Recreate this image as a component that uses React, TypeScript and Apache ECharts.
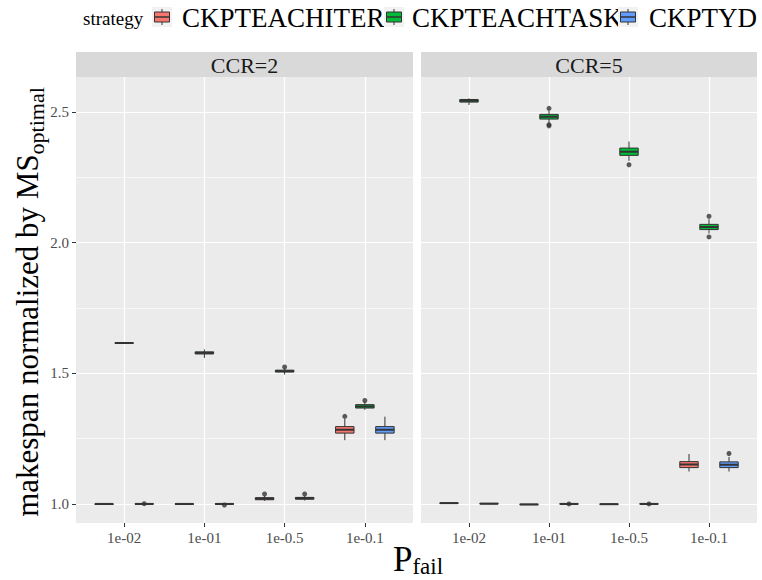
import React, { useEffect, useRef } from "react";
import * as echarts from "echarts";

// ---------- data ----------
const categories = ["1e-02", "1e-01", "1e-0.5", "1e-0.1"];
const strategies = ["CKPTEACHITER", "CKPTEACHTASK", "CKPTYD"];
const strategyColors = ["#F8766D", "#00BA38", "#619CFF"];
const panels = ["CCR=2", "CCR=5"];
const yTicks = [1.0, 1.5, 2.0, 2.5];
const yMinorTicks = [1.25, 1.75, 2.25];

// [min, q1, median, q3, max] per category
const ccr2Iter = [
  [0.999, 1.0, 1.0, 1.0, 1.001],
  [0.999, 0.9995, 1.0, 1.0005, 1.001],
  [1.012, 1.016, 1.02, 1.024, 1.03],
  [1.244, 1.271, 1.284, 1.296, 1.325],
];
const ccr2Task = [
  [1.614, 1.615, 1.616, 1.617, 1.618],
  [1.559, 1.574, 1.578, 1.582, 1.591],
  [1.495, 1.505, 1.508, 1.512, 1.518],
  [1.36, 1.367, 1.373, 1.38, 1.39],
];
const ccr2Yd = [
  [0.999, 1.0, 1.0, 1.001, 1.002],
  [0.998, 0.999, 1.0, 1.001, 1.002],
  [1.013, 1.018, 1.022, 1.025, 1.03],
  [1.244, 1.271, 1.284, 1.296, 1.334],
];
const ccr5Iter = [
  [1.001, 1.002, 1.003, 1.004, 1.005],
  [0.997, 0.998, 0.998, 0.999, 1.0],
  [0.998, 0.999, 0.999, 1.0, 1.001],
  [1.124, 1.139, 1.151, 1.162, 1.191],
];
const ccr5Task = [
  [2.527, 2.538, 2.543, 2.548, 2.552],
  [2.46, 2.473, 2.482, 2.491, 2.505],
  [2.313, 2.334, 2.348, 2.362, 2.387],
  [2.035, 2.05, 2.06, 2.07, 2.09],
];
const ccr5Yd = [
  [0.999, 1.0, 1.001, 1.002, 1.003],
  [0.997, 0.999, 1.0, 1.001, 1.002],
  [0.997, 0.999, 1.0, 1.001, 1.002],
  [1.124, 1.139, 1.15, 1.161, 1.18],
];
// outliers: [categoryIndex, strategyIndex, value]
const ccr2Outliers = [
  [0, 2, 1.001],
  [1, 2, 0.996],
  [2, 0, 1.038],
  [2, 1, 1.524],
  [2, 2, 1.038],
  [3, 0, 1.335],
  [3, 1, 1.396],
];
const ccr5Outliers = [
  [1, 1, 2.514],
  [1, 1, 2.447],
  [1, 1, 2.452],
  [1, 2, 1.0],
  [2, 1, 2.298],
  [2, 2, 1.0],
  [3, 1, 2.101],
  [3, 1, 2.022],
  [3, 2, 1.193],
];

const panelBoxes = [
  [ccr2Iter, ccr2Task, ccr2Yd],
  [ccr5Iter, ccr5Task, ccr5Yd],
];
const panelOutliers = [ccr2Outliers, ccr5Outliers];

// ---------- layout ----------
const FONT = "Liberation Serif";
const DODGE = 0.25;
const BOX_W = 0.23;
const gridsPos = [
  { left: 76, width: 337 },
  { left: 421, width: 336 },
];
const GRID_TOP = 77;
const GRID_BOTTOM_Y = 523;
const Y_MIN = 0.927;
const Y_MAX = 2.634;

function xPos(cat: number, s: number) {
  return cat + 1 + (s - 1) * DODGE;
}

function richText(x: number, y: number, text: string, size: number, color: string, align: string) {
  return {
    type: "text",
    x,
    y,
    style: {
      text: "{t|" + text + "}",
      align,
      verticalAlign: "middle",
      rich: {
        t: { fontFamily: FONT, fontSize: size, lineHeight: size, fill: color },
      },
    },
  };
}

export default function App() {
  const ref = useRef<HTMLDivElement>(null);
  useEffect(() => {
    if (!ref.current) return;
    const chart = echarts.init(ref.current, undefined, { renderer: "svg" });

    const grid = gridsPos.map((g) => ({
      left: g.left,
      width: g.width,
      top: GRID_TOP,
      height: GRID_BOTTOM_Y - GRID_TOP,
      show: true,
      backgroundColor: "#EBEBEB",
      borderWidth: 0,
      containLabel: false,
    }));

    const xAxis = panels.map((_, i) => ({
      type: "value",
      gridIndex: i,
      min: 0.4,
      max: 4.6,
      axisLine: { show: false },
      splitLine: { show: false },
      axisTick: {
        show: true,
        length: 4,
        customValues: [1, 2, 3, 4],
        lineStyle: { color: "#333333", width: 1 },
      },
      axisLabel: {
        show: true,
        customValues: [1, 2, 3, 4],
        formatter: (v: number) => categories[Math.round(v) - 1] ?? "",
        color: "#4D4D4D",
        fontFamily: FONT,
        fontSize: 15,
        margin: 7,
      },
    }));

    const yAxis = panels.map((_, i) => ({
      type: "value",
      gridIndex: i,
      min: Y_MIN,
      max: Y_MAX,
      axisLine: { show: false },
      splitLine: { show: false },
      axisTick: {
        show: i === 0,
        length: 4,
        customValues: yTicks,
        lineStyle: { color: "#333333", width: 1 },
      },
      axisLabel: {
        show: i === 0,
        customValues: yTicks,
        formatter: (v: number) => v.toFixed(1),
        color: "#4D4D4D",
        fontFamily: FONT,
        fontSize: 15,
        margin: 7,
      },
    }));

    const gridLines = [
      ...yTicks.map((v) => ({ yAxis: v, lineStyle: { width: 1.2 } })),
      ...yMinorTicks.map((v) => ({ yAxis: v, lineStyle: { width: 0.6 } })),
      ...categories.map((_, c) => ({ xAxis: c + 1, lineStyle: { width: 1.2 } })),
    ];

    const series: any[] = [];
    panels.forEach((_, p) => {
      const data: any[] = [];
      panelBoxes[p].forEach((arr, s) => {
        arr.forEach((b, c) => {
          data.push([xPos(c, s), b[0], b[1], b[2], b[3], b[4], s]);
        });
      });
      series.push({
        type: "custom",
        xAxisIndex: p,
        yAxisIndex: p,
        z: 3,
        data,
        renderItem: (params: any, api: any) => {
          const x = api.value(0);
          const s = api.value(6);
          const pMin = api.coord([x, api.value(1)]);
          const pQ1 = api.coord([x, api.value(2)]);
          const pMed = api.coord([x, api.value(3)]);
          const pQ3 = api.coord([x, api.value(4)]);
          const pMax = api.coord([x, api.value(5)]);
          const w = api.size([BOX_W, 0])[0];
          const stroke = "#333333";
          return {
            type: "group",
            children: [
              {
                type: "line",
                shape: { x1: pMax[0], y1: pMax[1], x2: pQ3[0], y2: pQ3[1] },
                style: { stroke, lineWidth: 1 },
              },
              {
                type: "line",
                shape: { x1: pQ1[0], y1: pQ1[1], x2: pMin[0], y2: pMin[1] },
                style: { stroke, lineWidth: 1 },
              },
              {
                type: "rect",
                shape: {
                  x: pQ3[0] - w / 2,
                  y: pQ3[1],
                  width: w,
                  height: Math.max(pQ1[1] - pQ3[1], 0.5),
                },
                style: { fill: strategyColors[s], stroke, lineWidth: 1 },
              },
              {
                type: "line",
                shape: {
                  x1: pMed[0] - w / 2,
                  y1: pMed[1],
                  x2: pMed[0] + w / 2,
                  y2: pMed[1],
                },
                style: { stroke, lineWidth: 2 },
              },
            ],
          };
        },
        markLine: {
          silent: true,
          z: 1,
          symbol: ["none", "none"],
          label: { show: false },
          lineStyle: { color: "#FFFFFF", type: "solid" },
          emphasis: { disabled: true },
          data: gridLines,
        },
      });
      series.push({
        type: "scatter",
        xAxisIndex: p,
        yAxisIndex: p,
        z: 4,
        symbol: "circle",
        symbolSize: 5,
        itemStyle: { color: "#333333" },
        data: panelOutliers[p].map((o) => [xPos(o[0], o[1]), o[2]]),
      });
    });

    // strips
    const graphics: any[] = [];
    panels.forEach((name, i) => {
      const g = gridsPos[i];
      graphics.push({
        type: "rect",
        shape: { x: g.left, y: 52, width: g.width, height: GRID_TOP - 52 },
        style: { fill: "#D9D9D9" },
        z: 0,
      });
      graphics.push(richText(g.left + g.width / 2, 65, name, 22, "#1A1A1A", "center"));
    });

    // legend
    graphics.push(richText(83, 18, "strategy", 19, "#000000", "left"));
    const keyX = [152, 384, 618];
    const textX = [182, 412, 649];
    strategies.forEach((name, s) => {
      const kx = keyX[s];
      const ky = 7;
      const k = 20;
      graphics.push({
        type: "group",
        children: [
          { type: "rect", shape: { x: kx, y: ky, width: k, height: k }, style: { fill: "#F2F2F2" } },
          {
            type: "line",
            shape: { x1: kx + k / 2, y1: ky + 2, x2: kx + k / 2, y2: ky + k - 2 },
            style: { stroke: "#333333", lineWidth: 1 },
          },
          {
            type: "rect",
            shape: { x: kx + 2.5, y: ky + 5, width: k - 5, height: k - 10 },
            style: { fill: strategyColors[s], stroke: "#333333", lineWidth: 1 },
          },
          {
            type: "line",
            shape: { x1: kx + 2.5, y1: ky + k / 2, x2: kx + k - 2.5, y2: ky + k / 2 },
            style: { stroke: "#333333", lineWidth: 1.5 },
          },
        ],
      });
      graphics.push(richText(textX[s], 18, name, 27, "#000000", "left"));
    });

    // axis titles
    graphics.push({
      type: "text",
      x: 418,
      y: 559,
      style: {
        text: "{a|P}{b|fail}",
        align: "center",
        verticalAlign: "middle",
        rich: {
          a: { fontFamily: FONT, fontSize: 35, lineHeight: 34, fill: "#000000", verticalAlign: "top" },
          b: {
            fontFamily: FONT,
            fontSize: 23,
            lineHeight: 23,
            fill: "#000000",
            verticalAlign: "top",
            padding: [13, 0, 0, 0],
          },
        },
      },
    });
    graphics.push({
      type: "text",
      x: 27,
      y: 302,
      rotation: Math.PI / 2,
      style: {
        text: "{a|makespan normalized by MS}{b|optimal}",
        align: "center",
        verticalAlign: "middle",
        rich: {
          a: { fontFamily: FONT, fontSize: 31, lineHeight: 31, fill: "#000000", verticalAlign: "top" },
          b: {
            fontFamily: FONT,
            fontSize: 22,
            lineHeight: 22,
            fill: "#000000",
            verticalAlign: "top",
            padding: [14, 0, 0, 0],
          },
        },
      },
    });

    chart.setOption({
      animation: false,
      backgroundColor: "#FFFFFF",
      grid,
      xAxis,
      yAxis,
      series,
      graphic: graphics,
    } as any);
    return () => chart.dispose();
  }, []);

  return (
    <div
      ref={ref}
      style={{ position: "fixed", left: 0, top: 0, width: 762, height: 580 }}
    />
  );
}
